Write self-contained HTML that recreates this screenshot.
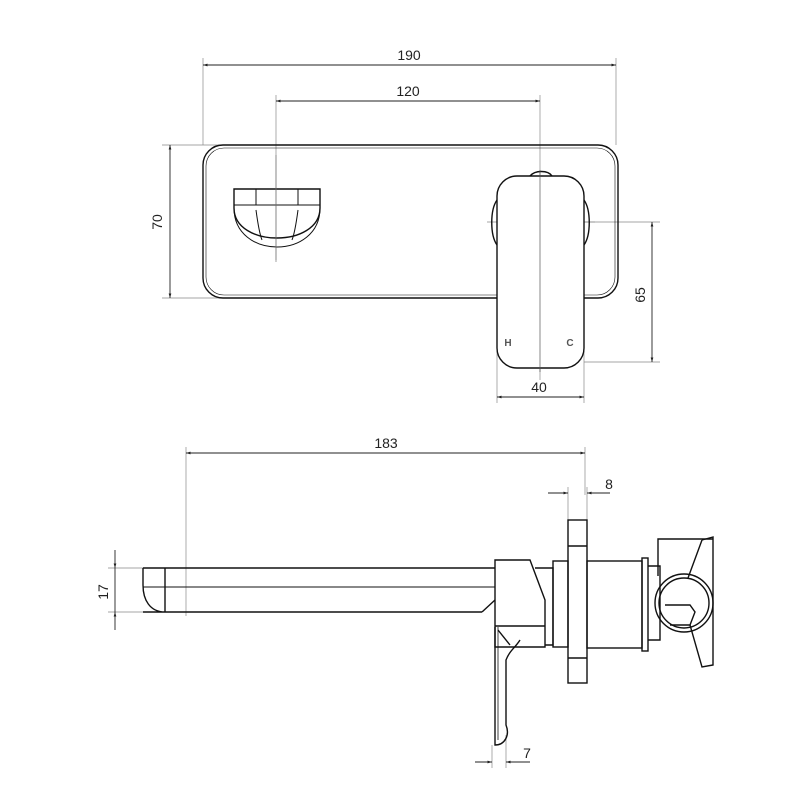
<!DOCTYPE html>
<html><head><meta charset="utf-8"><style>
html,body{margin:0;padding:0;background:#fff}
svg{display:block}
text{font-family:"Liberation Sans",sans-serif;font-size:14px;fill:#222}
</style></head><body>
<svg width="800" height="800" viewBox="0 0 800 800" xmlns="http://www.w3.org/2000/svg">
<defs>
<marker id="a" viewBox="0 0 10 10" refX="10" refY="5" markerWidth="8" markerHeight="5" orient="auto-start-reverse"><path d="M0,2 L10,5 L0,8 z" fill="#222"/></marker>
</defs>
<g stroke="#888" stroke-width="0.7" fill="none">
<!-- top dims extension -->
<line x1="203" y1="58" x2="203" y2="145"/><line x1="616" y1="58" x2="616" y2="145"/>
<line x1="276" y1="95" x2="276" y2="260"/><line x1="540" y1="95" x2="540" y2="380"/>
<line x1="162" y1="145" x2="220" y2="145"/><line x1="162" y1="298" x2="220" y2="298"/>
<line x1="575" y1="222" x2="660" y2="222"/><line x1="584" y1="362" x2="660" y2="362"/>
<line x1="497" y1="340" x2="497" y2="403"/><line x1="584" y1="340" x2="584" y2="403"/>
<line x1="487" y1="222" x2="595" y2="222" stroke-dasharray="12,4"/>
<!-- side dims ext -->
<line x1="186" y1="447" x2="186" y2="616"/><line x1="585" y1="447" x2="585" y2="495"/>
<line x1="568" y1="487" x2="568" y2="540"/><line x1="587" y1="487" x2="587" y2="540"/>
<line x1="108" y1="568" x2="150" y2="568"/><line x1="108" y1="612" x2="150" y2="612"/>
<line x1="492" y1="745" x2="492" y2="768"/><line x1="506" y1="735" x2="506" y2="768"/>
</g>
<g stroke="#222" stroke-width="0.9" fill="none">
<line x1="203" y1="65" x2="616" y2="65" marker-start="url(#a)" marker-end="url(#a)"/>
<line x1="276" y1="101" x2="540" y2="101" marker-start="url(#a)" marker-end="url(#a)"/>
<line x1="170" y1="145" x2="170" y2="298" marker-start="url(#a)" marker-end="url(#a)"/>
<line x1="652" y1="222" x2="652" y2="362" marker-start="url(#a)" marker-end="url(#a)"/>
<line x1="497" y1="397" x2="584" y2="397" marker-start="url(#a)" marker-end="url(#a)"/>
<line x1="186" y1="453" x2="585" y2="453" marker-start="url(#a)" marker-end="url(#a)"/>
<line x1="548" y1="493" x2="568" y2="493" marker-end="url(#a)"/>
<line x1="607" y1="493" x2="587" y2="493" marker-end="url(#a)"/>
<line x1="587" y1="493" x2="610" y2="493"/>
<line x1="115" y1="550" x2="115" y2="568" marker-end="url(#a)"/>
<line x1="115" y1="630" x2="115" y2="612" marker-end="url(#a)"/>
<line x1="115" y1="568" x2="115" y2="612"/>
<line x1="475" y1="762" x2="492" y2="762" marker-end="url(#a)"/>
<line x1="525" y1="762" x2="506" y2="762" marker-end="url(#a)"/>
<line x1="506" y1="762" x2="530" y2="762"/>
</g>
<g stroke="#111" stroke-width="1.4" fill="none">
<!-- top view plate -->
<rect x="203" y="145" width="415" height="153" rx="20"/>
<rect x="206" y="148" width="409" height="147" rx="18" stroke-width="0.6"/>
<!-- outlet -->
<path d="M234,189 H320 V208 C320,248 234,248 234,208 Z"/>
<path d="M234,205 H320 M256,189 V205 M298,189 V205" stroke-width="1"/>
<path d="M234,208 C234,260 320,260 320,208" stroke-width="1"/>
<path d="M256,210 C258,225 260,235 262,240 M298,210 C296,225 294,235 292,240" stroke-width="1"/>
<line x1="276" y1="155" x2="276" y2="262" stroke-width="0.7" stroke="#777"/>
<!-- handle -->
<path d="M530,176 C535,170 548,170 552,176" />
<rect x="497" y="176" width="87" height="192" rx="20" fill="#fff"/>
<path d="M497,200 C490,210 490,235 497,245 M584,200 C591,210 591,235 584,245"/>
<line x1="540" y1="170" x2="540" y2="372" stroke-width="0.7" stroke="#555"/>
<!-- side spout -->
<path d="M143,568 H495 M143,612 H482 M143,568 V585 C143,600 150,612 165,612 M165,568 V612"/>
<line x1="143" y1="587" x2="495" y2="587" stroke-width="1"/>
<path d="M482,612 L495,600"/>
<!-- body -->
<path d="M495,560 H530 L545,600 V647 H495 Z" fill="#fff"/>
<path d="M495,626 H545"/>
<path d="M535,568 H553 V645 H545"/>
<rect x="553" y="561" width="15" height="86"/>
<rect x="568" y="520" width="19" height="163"/>
<path d="M568,546 H587 M568,658 H587"/>
<rect x="587" y="561" width="55" height="87"/>
<rect x="642" y="558" width="6" height="93"/>
<path d="M648,566 H660 V640 H648"/>
<path d="M658,576 V539 H713"/>
<path d="M702,540 L713,537 V665 L702,667 L690,625 M702,540 L688,578"/>
<circle cx="684" cy="603" r="29"/>
<circle cx="684" cy="603" r="25"/>
<path d="M665,605 H690 L695,612 L690,625 H670"/>
<!-- lever -->
<path d="M495,627 V745 C505,745 510,735 506,725 V660 C510,650 515,648 520,640" />
<path d="M498,630 L510,645"/>
<line x1="498" y1="627" x2="498" y2="740" stroke-width="0.8"/>
</g>
<text x="409" y="60" text-anchor="middle">190</text>
<text x="408" y="96" text-anchor="middle">120</text>
<text x="539" y="392" text-anchor="middle">40</text>
<text x="386" y="448" text-anchor="middle">183</text>
<text x="609" y="489" text-anchor="middle">8</text>
<text x="527" y="758" text-anchor="middle">7</text>
<text transform="translate(162,222) rotate(-90)" text-anchor="middle">70</text>
<text transform="translate(645,295) rotate(-90)" text-anchor="middle">65</text>
<text transform="translate(108,592) rotate(-90)" text-anchor="middle">17</text>
<text x="508" y="346" text-anchor="middle" style="font-size:10px;font-weight:bold;fill:#555">H</text>
<text x="570" y="346" text-anchor="middle" style="font-size:10px;font-weight:bold;fill:#555">C</text>
</svg>
</body></html>
